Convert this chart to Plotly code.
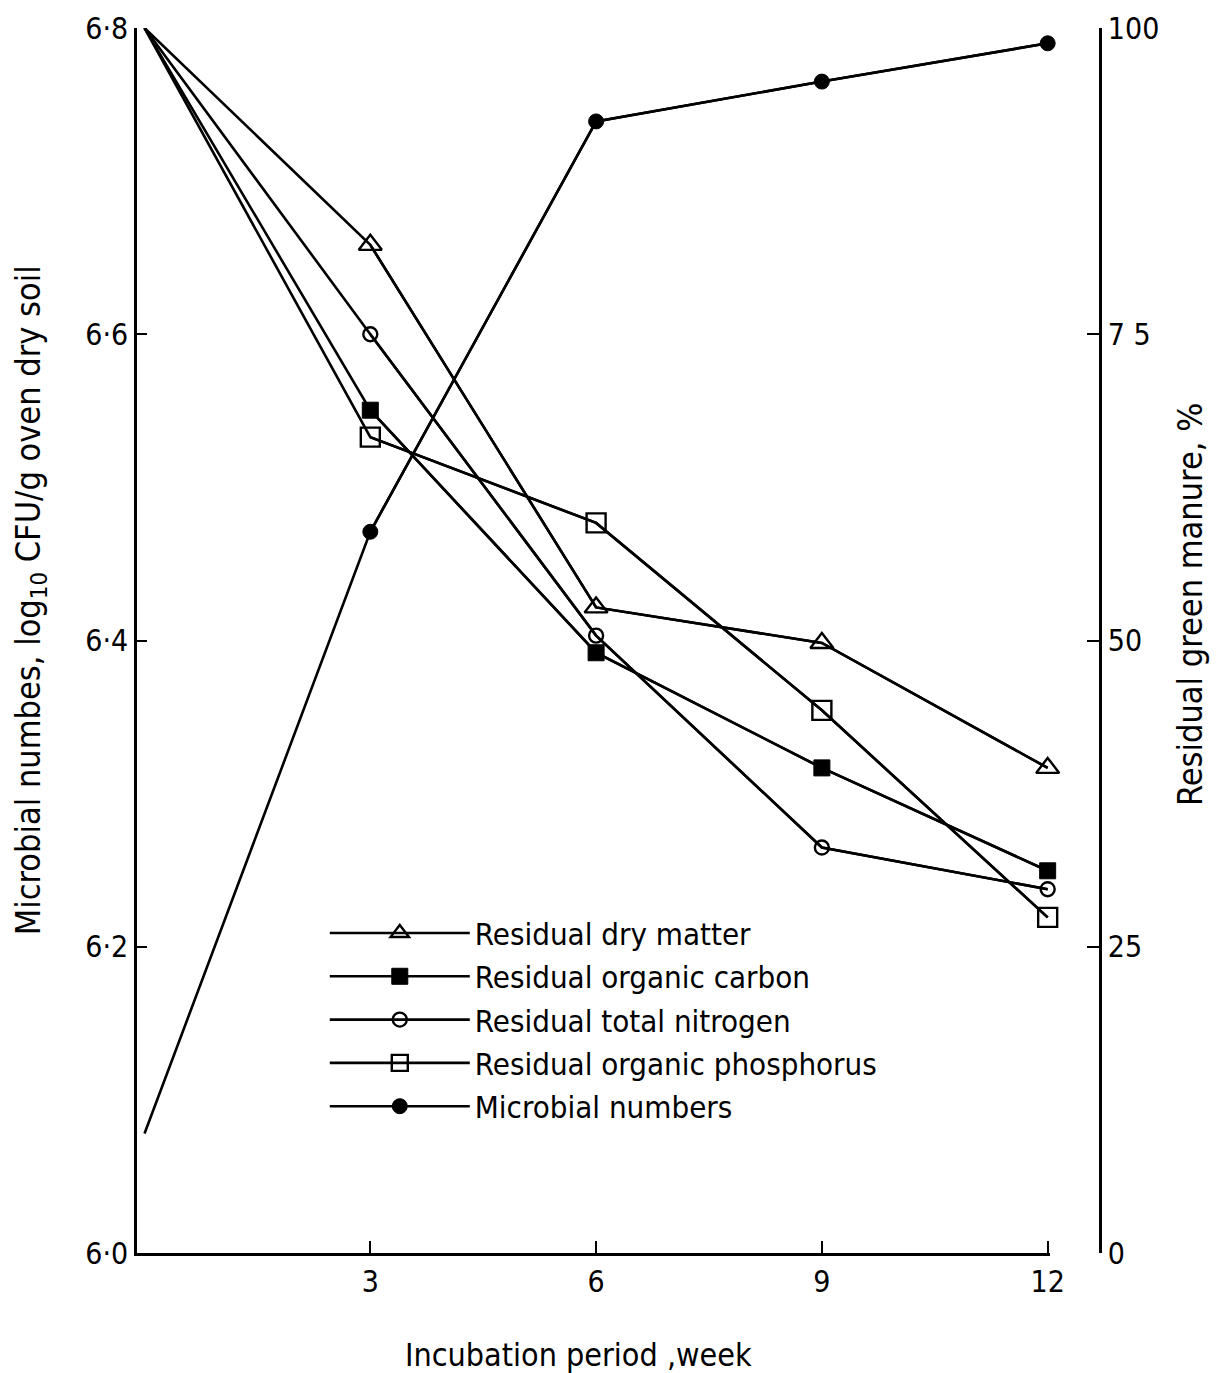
import plotly.graph_objects as go

weeks = [0, 3, 6, 9, 12]

# Residual green manure, % (right axis)
dry_matter = [100, 82.3, 52.7, 49.8, 39.6]
organic_carbon = [100, 68.8, 49.0, 39.6, 31.2]
total_nitrogen = [100, 75.0, 50.4, 33.1, 29.7]
organic_phosphorus = [100, 66.6, 59.6, 44.3, 27.4]

# Microbial numbers, log10 CFU/g oven dry soil (left axis)
microbial = [6.078, 6.471, 6.739, 6.765, 6.790]

left_tickvals = [6.0, 6.2, 6.4, 6.6, 6.8]
left_ticktext = ["6·0", "6·2", "6·4", "6·6", "6·8"]
right_tickvals = [0, 25, 50, 75, 100]
right_ticktext = ["0", "25", "50", "7 5", "100"]
x_tickvals = [3, 6, 9, 12]

FONT = "DejaVu Sans Condensed, Liberation Sans Narrow, DejaVu Sans, sans-serif"
LW = 2.6

series = [
    ("Residual dry matter", dry_matter, "y2",
     dict(symbol="triangle-up-open", size=20, color="black", line=dict(width=2.4, color="black"))),
    ("Residual organic carbon", organic_carbon, "y2",
     dict(symbol="square", size=16, color="black", line=dict(width=1, color="black"))),
    ("Residual total nitrogen", total_nitrogen, "y2",
     dict(symbol="circle-open", size=14, color="black", line=dict(width=2.4, color="black"))),
    ("Residual organic phosphorus", organic_phosphorus, "y2",
     dict(symbol="square-open", size=19, color="black", line=dict(width=2.4, color="black"))),
    ("Microbial numbers", microbial, "y",
     dict(symbol="circle", size=15, color="black", line=dict(width=1, color="black"))),
]

fig = go.Figure()
for name, vals, yax, mk in series:
    # full line from week 0
    fig.add_trace(go.Scatter(
        x=weeks, y=vals, yaxis=yax, mode="lines",
        line=dict(color="black", width=LW), showlegend=False,
        legendgroup=name, cliponaxis=False, hoverinfo="skip"))
    # markers (week 0 has no visible marker)
    fig.add_trace(go.Scatter(
        x=weeks[1:], y=vals[1:], yaxis=yax, mode="lines+markers", name=name,
        line=dict(color="black", width=LW), marker=mk,
        legendgroup=name, cliponaxis=False))

fig.update_layout(
    width=1225, height=1373,
    paper_bgcolor="white", plot_bgcolor="white",
    margin=dict(l=129, r=133, t=20, b=128, autoexpand=False),
    font=dict(family=FONT, size=30, color="black"),
    showlegend=True,
    legend=dict(
        x=0.195, y=0.283, xanchor="left", yanchor="top",
        bgcolor="rgba(0,0,0,0)", itemwidth=140,
        font=dict(family=FONT, size=31, color="black"),
        tracegroupgap=0, traceorder="normal",
    ),
    xaxis=dict(
        domain=[0, 0.948], range=[-0.1, 12.03], automargin=False,
        tickvals=x_tickvals, ticks="inside", ticklen=12, tickwidth=2,
        tickcolor="black", showline=True, linecolor="black", linewidth=LW,
        showgrid=False, zeroline=False,
        tickfont=dict(family=FONT, size=30),
    ),
    yaxis=dict(
        range=[6.0, 6.8], tickvals=left_tickvals, ticktext=left_ticktext,
        automargin=False,
        ticks="inside", ticklen=10, tickwidth=2, tickcolor="black",
        showline=True, linecolor="black", linewidth=LW,
        showgrid=False, zeroline=False,
        tickfont=dict(family=FONT, size=30),
    ),
    yaxis2=dict(
        range=[0, 100], overlaying="y", side="right", anchor="free", position=1.0,
        automargin=False,
        tickvals=right_tickvals, ticktext=right_ticktext,
        ticks="inside", ticklen=12, tickwidth=2, tickcolor="black",
        showline=True, linecolor="black", linewidth=LW,
        showgrid=False, zeroline=False,
        tickfont=dict(family=FONT, size=30),
    ),
    annotations=[
        dict(text="Microbial numbes, log<sub>10</sub> CFU/g oven dry soil",
             xref="paper", yref="paper", x=-0.111, y=0.533,
             xanchor="center", yanchor="middle", textangle=-90, showarrow=False,
             font=dict(family=FONT, size=34)),
        dict(text="Residual green manure, %",
             xref="paper", yref="paper", x=1.0935, y=0.529,
             xanchor="center", yanchor="middle", textangle=-90, showarrow=False,
             font=dict(family=FONT, size=34)),
        dict(text="Incubation period ,week",
             xref="paper", yref="paper", x=0.458, y=-0.0833,
             xanchor="center", yanchor="middle", showarrow=False,
             font=dict(family=FONT, size=32)),
    ],
)

fig.write_html("out.html")
